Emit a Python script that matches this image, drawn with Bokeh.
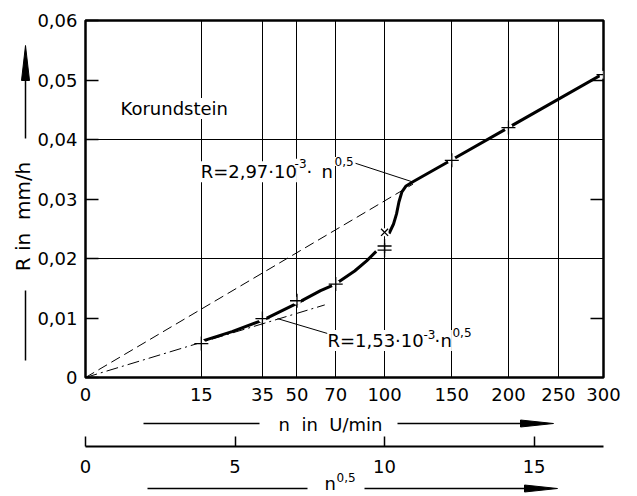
import math
from bokeh.plotting import figure
from bokeh.models import (Range1d, LinearAxis, FixedTicker, CustomJSTickFormatter, Label)
from bokeh.core.properties import value
from bokeh.embed import file_html
from bokeh.resources import INLINE

# ---------------- data ----------------
n_tick_values = [0, 15, 35, 50, 70, 100, 150, 200, 250, 300]
n_grid_values = [15, 35, 50, 70, 100, 150, 200, 250]
sqrt_n_ticks = [0, 5, 10, 15]
r_tick_values = [0, 0.01, 0.02, 0.03, 0.04, 0.05, 0.06]
r_grid_values = [0.02, 0.04]
r_right_ticks = [0.01, 0.03, 0.05]

# measured points (+)
meas_n = [15, 35, 50, 70, 100, 100, 150, 200, 300]
meas_R = [0.0057, 0.0099, 0.0129, 0.0157, 0.0214, 0.0221, 0.0365, 0.0420, 0.0509]
# measured point (x)
xmark_n = [100]
xmark_R = [0.0244]

# thick measured curve (x = n^0.5)
curve_low_sqrt_n = [3.95, 4.9, 5.91, 7.0, 7.86, 8.36, 9.0, 9.4, 9.72]
curve_low_R = [0.0062, 0.0077, 0.0096, 0.0123, 0.0146, 0.0157, 0.0179, 0.0196, 0.0212]
curve_up_sqrt_n = [10.15, 10.3, 10.4, 10.48, 10.58, 10.72, 10.95, 12.25, 14.14, 17.32]
curve_up_R = [0.0242, 0.0258, 0.0275, 0.0295, 0.0312, 0.0322, 0.0329, 0.0366, 0.0420, 0.0511]

# fitted lines R = c * n^0.5
fit_high_sqrt_n = [0, 10.95]
fit_high_R = [0, 0.0325]      # R = 2.97e-3 n^0.5
fit_low_sqrt_n = [0, 8.0]
fit_low_R = [0, 0.0122]       # R = 1.53e-3 n^0.5

FONT = "DejaVu Sans"
FS = "18px"
NB = "\u00a0"

meas_x = [math.sqrt(v) for v in meas_n]
xmark_x = [math.sqrt(v) for v in xmark_n]

X_MAX = math.sqrt(300)
Y_MAX = 0.06
FL, FR, FT, FB = 85, 603, 20, 377   # frame edges in page pixels


def px(xp):
    return (xp - FL) / (FR - FL) * X_MAX


def py(yp):
    return (FB - yp) / (FB - FT) * Y_MAX


p = figure(width=637, height=496, output_backend="svg", toolbar_location=None,
           x_range=Range1d(0, X_MAX), y_range=Range1d(0, Y_MAX),
           min_border_left=FL, min_border_right=637 - FR, min_border_top=FT,
           min_border_bottom=496 - FB)
p.background_fill_color = "white"
p.border_fill_color = "white"
p.outline_line_color = "black"
p.outline_line_width = 2.5

# grids
p.xgrid.ticker = FixedTicker(ticks=[math.sqrt(v) for v in n_grid_values])
p.ygrid.ticker = FixedTicker(ticks=r_grid_values)
p.grid.grid_line_color = "black"
p.grid.grid_line_width = 1
p.grid.grid_line_alpha = 1

# bottom axis: n in U/min (sqrt scale)
ax = p.xaxis[0]
ax.ticker = FixedTicker(ticks=[math.sqrt(v) for v in n_tick_values])
ax.formatter = CustomJSTickFormatter(code="return String(Math.round(tick*tick));")
ax.major_tick_in = 0
ax.major_tick_out = 0
ax.minor_tick_in = 0
ax.minor_tick_out = 0
ax.axis_line_color = None
ax.major_label_text_font = FONT
ax.major_label_text_font_size = FS
ax.major_label_text_color = "black"
ax.major_label_standoff = 10
ax.axis_label = NB
ax.axis_label_text_font_size = FS
ax.axis_label_standoff = 20

# second bottom axis: n^0.5
ax2 = LinearAxis(ticker=FixedTicker(ticks=sqrt_n_ticks))
ax2.major_tick_in = 10
ax2.major_tick_out = 0
ax2.minor_tick_in = 0
ax2.minor_tick_out = 0
ax2.axis_line_width = 2
ax2.axis_line_color = "black"
ax2.major_tick_line_width = 1.5
ax2.major_label_text_font = FONT
ax2.major_label_text_font_size = FS
ax2.major_label_text_color = "black"
ax2.major_label_standoff = 13
p.add_layout(ax2, "below")

# left axis
ay = p.yaxis[0]
ay.ticker = FixedTicker(ticks=r_tick_values)
ay.formatter = CustomJSTickFormatter(
    code="return tick === 0 ? '0' : tick.toFixed(2).replace('.', ',');")
ay.major_tick_in = 13
ay.major_tick_out = 0
ay.minor_tick_in = 0
ay.minor_tick_out = 0
ay.major_tick_line_width = 1.5
ay.axis_line_color = None
ay.major_label_text_font = FONT
ay.major_label_text_font_size = FS
ay.major_label_text_color = "black"
ay.major_label_standoff = 8

# right axis: ticks only
ar = LinearAxis(ticker=FixedTicker(ticks=r_right_ticks),
                formatter=CustomJSTickFormatter(code="return '';"))
ar.major_tick_in = 13
ar.major_tick_out = 0
ar.minor_tick_in = 0
ar.minor_tick_out = 0
ar.major_tick_line_width = 1.5
ar.axis_line_color = None
p.add_layout(ar, "right")

# fitted lines
p.line(fit_high_sqrt_n, fit_high_R, line_color="black", line_width=1, line_dash="10 5")
p.line(fit_low_sqrt_n, fit_low_R, line_color="black", line_width=1, line_dash="12 4 2 4")

# measured curve
p.line(curve_low_sqrt_n, curve_low_R, line_color="black", line_width=3)
p.line(curve_up_sqrt_n, curve_up_R, line_color="black", line_width=3)

# measured points with white halo
p.scatter(meas_x, meas_R, marker="circle", size=8, fill_color="white", line_color=None)
p.scatter(xmark_x, xmark_R, marker="circle", size=8, fill_color="white", line_color=None)
p.scatter(meas_x, meas_R, marker="cross", size=14, line_color="black", line_width=1.3)
p.scatter(xmark_x, xmark_R, marker="x", size=10, line_color="black", line_width=1.3)


def lab(x, y, text, size=FS, **kw):
    l = Label(x=x, y=y, text=text, text_font=FONT, text_font_size=size,
              text_color="black", **kw)
    p.add_layout(l)
    return l


lab(1.17, 0.0452, "Korundstein", text_baseline="middle", background_fill_color="white")

# upper formula R=2,97·10^-3·n^0,5
lab(3.85, 0.0346, "R=2,97\u00b710", text_baseline="alphabetic", background_fill_color="white")
lab(6.99, 0.0360, "-3", size="12px", text_baseline="alphabetic", background_fill_color="white")
lab(7.39, 0.0346, "\u00b7", text_baseline="alphabetic")
lab(7.89, 0.0346, "n", text_baseline="alphabetic", background_fill_color="white")
lab(8.33, 0.0363, "0,5", size="12px", text_baseline="alphabetic", background_fill_color="white")

# lower formula R=1,53·10^-3·n^0,5
lab(8.09, 0.0062, "R=1,53\u00b710", text_baseline="alphabetic", background_fill_color="white")
lab(11.30, 0.0072, "-3", size="12px", text_baseline="alphabetic")
lab(11.67, 0.0062, "\u00b7", text_baseline="alphabetic")
lab(11.87, 0.0062, "n", text_baseline="alphabetic", background_fill_color="white")
lab(12.27, 0.0076, "0,5", size="12px", text_baseline="alphabetic")

# leader lines
p.segment(x0=[9.03, 6.42], y0=[0.0360, 0.0099], x1=[10.92, 8.09], y1=[0.0329, 0.0074],
          line_color="black", line_width=1)


# ---- decorations outside the frame (drawn on the overlay level) ----
def otext(xp, yp, text, size=FS, **kw):
    p.text(x=[px(xp)], y=[py(yp)], text=[text], text_font=value(FONT),
           text_font_size=value(size), text_color="black", level="overlay", **kw)


def oseg(x0p, y0p, x1p, y1p, width=1.5):
    p.segment(x0=[px(x0p)], y0=[py(y0p)], x1=[px(x1p)], y1=[py(y1p)],
              line_color="black", line_width=width, level="overlay")


def ohead(xsp, ysp):
    p.patch(x=[px(v) for v in xsp], y=[py(v) for v in ysp], fill_color="black",
            line_color="black", line_width=1, level="overlay")


# y-axis title with arrow
otext(22.5, 216, "R" + NB + "in" + NB + NB + "mm/h", size="20px", angle=math.pi / 2,
      text_align="center", text_baseline="middle")
oseg(25, 290, 25, 360)
oseg(25, 138, 25, 76)
ohead([25, 21, 29], [45, 80, 80])

# bottom row 1: n in U/min
otext(330, 424, "n" + NB + NB + "in" + NB + NB + "U/min", text_align="center",
      text_baseline="middle")
oseg(143, 423, 259, 423)
oseg(397, 423, 525, 423)
ohead([553, 520, 520], [423, 419.5, 426.5])

# bottom row 2: n^0,5
otext(324, 483, "n", text_align="left", text_baseline="middle")
otext(336, 477, "0,5", size="12px", text_align="left", text_baseline="middle")
oseg(147, 488, 307, 488)
oseg(364, 488, 528, 488)
ohead([557, 524, 524], [488, 484.5, 491.5])

open("out.html", "w").write(file_html(p, INLINE))
